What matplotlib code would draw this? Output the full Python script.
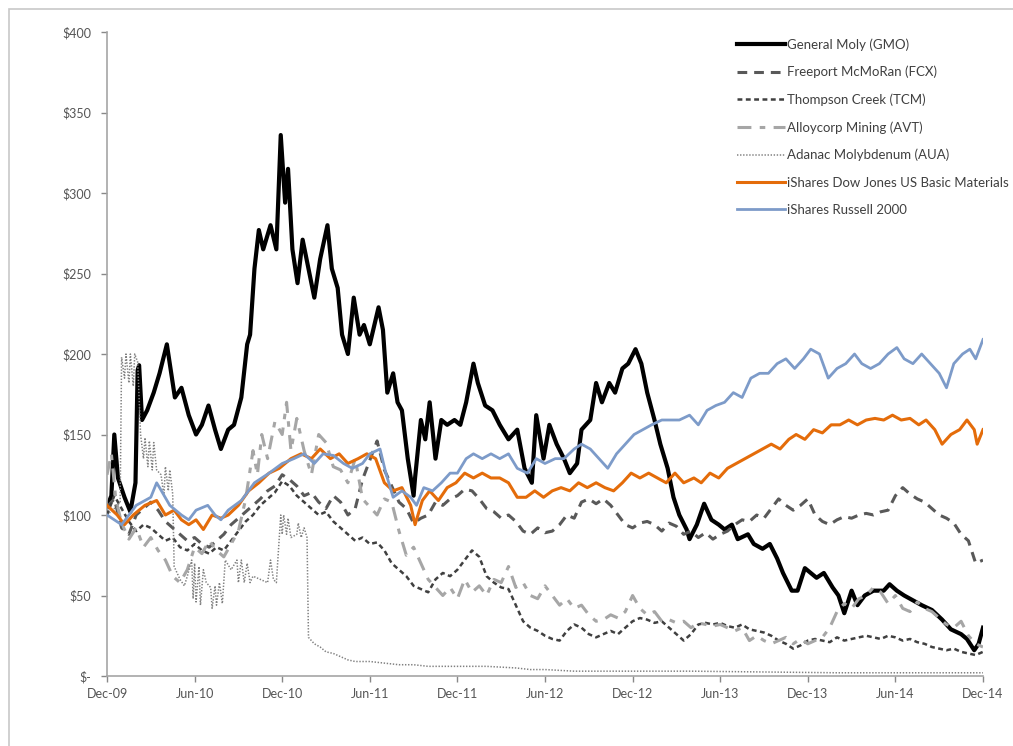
import matplotlib.pyplot as plt
from matplotlib.patches import Rectangle

plt.rcParams['font.family'] = ['Lato', 'DejaVu Sans']
plt.rcParams['lines.scale_dashes'] = False

# months since Dec-09, value of $100 invested
gmo = [(0, 105), (0.3, 112), (0.5, 150), (0.75, 123), (1.2, 111), (1.6, 102), (1.95, 120), (2.1, 190),
       (2.2, 193), (2.4, 159), (2.75, 165), (3.2, 176), (3.6, 188), (4.1, 206), (4.3, 194), (4.65, 173),
       (5.1, 179), (5.6, 162), (6.1, 150), (6.5, 156), (6.95, 168), (7.4, 153), (7.8, 141), (8.3, 153),
       (8.7, 156), (9.2, 173), (9.6, 206), (9.8, 212), (10.1, 253), (10.4, 277), (10.7, 265), (11.2, 280),
       (11.6, 265), (11.9, 336), (12.2, 294), (12.4, 315), (12.7, 265), (13.05, 244), (13.4, 271), (13.8, 253),
       (14.2, 235), (14.6, 259), (15.1, 280), (15.4, 253), (15.8, 241), (16.1, 212), (16.5, 200), (16.9, 235),
       (17.3, 212), (17.6, 218), (18.0, 206), (18.6, 229), (18.9, 215), (19.2, 176), (19.6, 188), (19.9, 170),
       (20.2, 165), (20.6, 135), (21.0, 112), (21.1, 123), (21.5, 159), (21.8, 147), (22.1, 170), (22.5, 135),
       (22.9, 159), (23.3, 156), (23.8, 159), (24.2, 156), (24.6, 170), (25.1, 194), (25.4, 182), (25.9, 168),
       (26.4, 165), (26.9, 156), (27.5, 147), (28.1, 153), (28.6, 129), (29.1, 120), (29.4, 162), (29.9, 135),
       (30.3, 156), (30.8, 144), (31.3, 135), (31.7, 126), (32.2, 132), (32.5, 153), (33.1, 159), (33.5, 182),
       (33.9, 170), (34.4, 182), (34.8, 176), (35.3, 191), (35.7, 194), (36.2, 203), (36.6, 194), (37.0, 176),
       (37.5, 159), (37.9, 144), (38.4, 129), (38.8, 111), (39.2, 100), (39.7, 91), (39.9, 85), (40.4, 94),
       (40.9, 107), (41.4, 97), (41.9, 94), (42.3, 91), (42.8, 94), (43.2, 85), (43.9, 88), (44.3, 82),
       (44.9, 79), (45.4, 82), (45.9, 73), (46.3, 64), (46.9, 53), (47.3, 53), (47.8, 67), (48.2, 64),
       (48.6, 61), (49.1, 64), (49.7, 55), (50.1, 50), (50.5, 39), (51.0, 53), (51.4, 44), (51.9, 50),
       (52.5, 53), (53.2, 53), (53.6, 57), (54.1, 53), (54.6, 50), (55.2, 47), (55.8, 44), (56.5, 41),
       (57.2, 35), (57.8, 29), (58.5, 26), (58.9, 23), (59.4, 16), (59.7, 20), (60.0, 30)]

fcx = [(0, 105), (0.5, 110), (1, 92), (1.5, 88), (2, 100), (2.5, 104), (3, 108), (3.5, 103), (4, 96),
       (4.5, 92), (5, 88), (5.5, 84), (6, 86), (6.5, 82), (7, 80), (7.5, 84), (8, 88), (8.5, 94), (9, 98),
       (9.5, 102), (10, 106), (10.5, 110), (11, 115), (11.5, 118), (12, 125), (12.5, 122), (13, 118),
       (13.5, 112), (14, 114), (14.5, 108), (15, 104), (15.5, 112), (16, 108), (16.5, 100), (17, 104),
       (17.5, 122), (18, 134), (18.5, 146), (19, 128), (19.5, 118), (20, 108), (20.5, 104), (21, 95),
       (21.5, 98), (22, 100), (22.5, 108), (23, 106), (23.5, 110), (24, 112), (24.5, 116), (25, 115),
       (25.5, 110), (26, 104), (26.5, 102), (27, 98), (27.5, 100), (28, 96), (28.5, 90), (29, 88),
       (29.5, 92), (30, 89), (30.5, 90), (31, 94), (31.5, 100), (32, 98), (32.5, 108), (33, 110),
       (33.5, 107), (34, 110), (34.5, 106), (35, 100), (35.5, 94), (36, 92), (36.5, 95), (37, 96),
       (37.5, 94), (38, 90), (38.5, 95), (39, 93), (39.5, 88), (40, 90), (40.5, 86), (41, 89), (41.5, 85),
       (42, 88), (42.5, 90), (43, 94), (43.5, 97), (44, 96), (44.5, 100), (45, 98), (45.5, 104), (46, 110),
       (46.5, 106), (47, 103), (47.5, 106), (48, 110), (48.5, 100), (49, 96), (49.5, 94), (50, 97),
       (50.5, 99), (51, 98), (51.5, 100), (52, 101), (52.5, 100), (53, 102), (53.5, 103), (54, 112),
       (54.5, 117), (55, 113), (55.5, 110), (56, 108), (56.5, 104), (57, 100), (57.5, 98), (58, 95),
       (58.5, 88), (59, 84), (59.5, 70), (60, 72)]

tcm = [(0, 100), (0.5, 112), (1, 104), (1.5, 96), (2, 90), (2.5, 94), (3, 92), (3.5, 88), (4, 84),
       (4.5, 86), (5, 80), (5.5, 78), (6, 82), (6.5, 78), (7, 76), (7.5, 80), (8, 78), (8.5, 84), (9, 90),
       (9.5, 96), (10, 100), (10.5, 106), (11, 110), (11.5, 114), (12, 121), (12.5, 118), (13, 112),
       (13.5, 108), (14, 104), (14.5, 100), (15, 102), (15.5, 96), (16, 92), (16.5, 88), (17, 84),
       (17.5, 86), (18, 82), (18.5, 83), (19, 78), (19.5, 70), (20, 66), (20.5, 62), (21, 56), (21.5, 54),
       (22, 52), (22.5, 60), (23, 64), (23.5, 62), (24, 66), (24.5, 72), (25, 78), (25.5, 74), (26, 62),
       (26.5, 58), (27, 55), (27.5, 54), (28, 44), (28.5, 34), (29, 30), (29.5, 28), (30, 25), (30.5, 23),
       (31, 22), (31.5, 28), (32, 32), (32.5, 30), (33, 26), (33.5, 24), (34, 26), (34.5, 28), (35, 26),
       (35.5, 30), (36, 34), (36.5, 36), (37, 35), (37.5, 33), (38, 34), (38.5, 30), (39, 26), (39.5, 22),
       (40, 26), (40.5, 32), (41, 33), (41.5, 32), (42, 33), (42.5, 31), (43, 30), (43.5, 32), (44, 29),
       (44.5, 28), (45, 27), (45.5, 25), (46, 22), (46.5, 20), (47, 17), (47.5, 19), (48, 22), (48.5, 23),
       (49, 22), (49.5, 21), (50, 24), (50.5, 22), (51, 23), (51.5, 24), (52, 25), (52.5, 24), (53, 23),
       (53.5, 25), (54, 24), (54.5, 22), (55, 23), (55.5, 21), (56, 20), (56.5, 18), (57, 17), (57.5, 16),
       (58, 17), (58.5, 15), (59, 14), (59.5, 13), (60, 15)]

avt = [(0, 125), (0.3, 138), (0.6, 110), (1, 95), (1.5, 85), (2, 92), (2.5, 80), (3, 86), (3.5, 78),
       (4, 72), (4.5, 62), (5, 58), (5.5, 66), (6, 80), (6.5, 76), (7, 84), (7.5, 78), (8, 74), (8.5, 82),
       (9, 90), (9.5, 110), (10, 140), (10.3, 125), (10.6, 150), (11, 135), (11.5, 158), (12, 150),
       (12.3, 170), (12.6, 140), (13, 160), (13.5, 140), (14, 125), (14.5, 150), (15, 145), (15.5, 130),
       (16, 128), (16.5, 120), (17, 135), (17.5, 110), (18, 105), (18.5, 100), (19, 110), (19.5, 108),
       (20, 90), (20.5, 75), (21, 80), (21.5, 70), (22, 60), (22.5, 55), (23, 50), (23.5, 55), (24, 48),
       (24.5, 60), (25, 52), (25.5, 56), (26, 50), (26.5, 60), (27, 58), (27.5, 68), (28, 55), (28.5, 58),
       (29, 50), (29.5, 48), (30, 56), (30.5, 50), (31, 44), (31.5, 48), (32, 42), (32.5, 44), (33, 38),
       (33.5, 34), (34, 35), (34.5, 38), (35, 36), (35.5, 40), (36, 50), (36.5, 42), (37, 38), (37.5, 40),
       (38, 34), (38.5, 35), (39, 33), (39.5, 34), (40, 30), (40.5, 33), (41, 32), (41.5, 31), (42, 32),
       (42.5, 30), (43, 28), (43.5, 30), (44, 22), (44.5, 25), (45, 22), (45.5, 20), (46, 22), (46.5, 24),
       (47, 20), (47.5, 23), (48, 20), (48.5, 22), (49, 24), (49.5, 30), (50, 40), (50.5, 45), (51, 42),
       (51.5, 48), (52, 50), (52.5, 55), (53, 52), (53.5, 45), (54, 50), (54.5, 42), (55, 40), (55.5, 46),
       (56, 42), (56.5, 40), (57, 36), (57.5, 32), (58, 30), (58.5, 34), (59, 25), (59.5, 20), (60, 18)]

aua = [(0, 100), (0.5, 104), (0.9, 108), (1.0, 198), (1.2, 185), (1.3, 200), (1.5, 182), (1.6, 200),
       (1.8, 180), (1.9, 200), (2.1, 195), (2.3, 150), (2.5, 135), (2.6, 148), (2.8, 130), (2.9, 146),
       (3.1, 128), (3.2, 145), (3.4, 128), (3.7, 125), (3.9, 112), (4.0, 130), (4.2, 115), (4.3, 128),
       (4.5, 113), (4.6, 68), (5.0, 60), (5.3, 56), (5.5, 62), (5.8, 72), (5.9, 48), (6.0, 70), (6.1, 46),
       (6.3, 68), (6.4, 44), (6.6, 66), (6.8, 58), (7.1, 55), (7.2, 42), (7.4, 56), (7.5, 44), (7.7, 58),
       (7.9, 45), (8.1, 72), (8.5, 66), (8.9, 72), (9.0, 58), (9.2, 72), (9.4, 58), (9.6, 70), (9.8, 58),
       (10.0, 62), (10.5, 60), (11.0, 58), (11.2, 72), (11.4, 60), (11.6, 58), (11.9, 100), (12.0, 88),
       (12.1, 100), (12.3, 88), (12.4, 98), (12.6, 86), (13.0, 88), (13.1, 95), (13.3, 86), (13.5, 92),
       (13.7, 86), (13.8, 24), (14.2, 20), (14.6, 18), (15, 15), (15.5, 14), (16, 12), (16.5, 10), (17, 9),
       (18, 9), (19, 8), (20, 7), (21, 7), (22, 6), (24, 6), (26, 6), (28, 5), (29, 4), (30, 4), (32, 3),
       (36, 3), (40, 3), (45, 2.5), (50, 2), (55, 2), (60, 2)]

iym = [(0, 106), (0.7, 100), (1.2, 94), (1.8, 100), (2.6, 106), (3.4, 109), (4.0, 100), (4.6, 103),
       (5.1, 97), (5.6, 94), (6.1, 97), (6.6, 91), (7.2, 100), (7.8, 98), (8.3, 100), (9.0, 106), (9.7, 115),
       (10.4, 120), (11.1, 126), (11.8, 129), (12.6, 135), (13.3, 138), (14.0, 135), (14.6, 141), (15.3, 135),
       (15.9, 138), (16.5, 132), (17.2, 135), (17.8, 138), (18.4, 135), (19.0, 120), (19.6, 115), (20.2, 117),
       (20.8, 106), (21.1, 94), (21.6, 109), (22.1, 115), (22.7, 109), (23.3, 117), (23.9, 120), (24.5, 126),
       (25.1, 123), (25.7, 126), (26.3, 123), (26.9, 123), (27.5, 120), (28.1, 111), (28.7, 111), (29.3, 115),
       (29.9, 111), (30.5, 115), (31.1, 117), (31.7, 115), (32.3, 120), (32.9, 117), (33.5, 120), (34.1, 117),
       (34.7, 115), (35.3, 120), (35.9, 126), (36.5, 123), (37.1, 126), (37.7, 123), (38.3, 120), (38.9, 126),
       (39.5, 120), (40.2, 123), (40.7, 120), (41.3, 126), (41.9, 123), (42.5, 129), (43.1, 132), (43.7, 135),
       (44.3, 138), (44.9, 141), (45.5, 144), (46.1, 141), (46.7, 147), (47.2, 150), (47.8, 147), (48.4, 153),
       (49.0, 151), (49.6, 156), (50.2, 156), (50.8, 159), (51.4, 156), (52.0, 159), (52.6, 160), (53.2, 159),
       (53.8, 162), (54.4, 159), (55.0, 160), (55.6, 156), (56.1, 159), (56.7, 153), (57.2, 144), (57.8, 150),
       (58.4, 153), (58.9, 159), (59.4, 153), (59.6, 144), (60.0, 153)]

iwm = [(0, 100), (1, 94), (2, 106), (3, 111), (3.4, 120), (3.6, 117), (4.3, 106), (5.1, 100), (5.6, 97),
       (6.1, 103), (6.9, 106), (7.4, 100), (7.8, 97), (8.3, 103), (9.2, 109), (10.1, 120), (11.1, 126),
       (12.0, 132), (12.8, 135), (13.5, 138), (14.2, 132), (14.8, 138), (15.5, 137), (16.2, 132), (16.8, 129),
       (17.5, 132), (18.0, 138), (18.7, 141), (19.1, 126), (19.6, 111), (20.2, 115), (20.8, 111), (21.2, 106),
       (21.7, 117), (22.3, 115), (22.9, 120), (23.5, 126), (24.0, 126), (24.6, 135), (25.1, 138), (25.7, 135),
       (26.3, 138), (26.9, 135), (27.5, 138), (28.1, 129), (28.8, 126), (29.4, 135), (30.0, 132), (30.7, 135),
       (31.3, 135), (32.0, 141), (32.5, 144), (33.1, 141), (33.7, 135), (34.3, 129), (34.9, 138), (35.5, 144),
       (36.1, 150), (36.7, 153), (37.3, 156), (38.0, 159), (38.6, 159), (39.2, 159), (39.9, 162), (40.5, 156),
       (41.1, 165), (41.7, 168), (42.3, 170), (42.9, 176), (43.5, 173), (44.1, 185), (44.7, 188), (45.3, 188),
       (45.9, 194), (46.5, 197), (47.1, 191), (47.7, 197), (48.2, 203), (48.8, 200), (49.4, 185), (50.0, 191),
       (50.6, 194), (51.2, 200), (51.7, 194), (52.3, 191), (52.9, 194), (53.5, 200), (54.1, 204), (54.6, 197),
       (55.2, 194), (55.8, 200), (56.4, 194), (57.0, 188), (57.5, 179), (58.0, 194), (58.6, 200), (59.1, 203),
       (59.5, 197), (60.0, 209)]

x_ticks = [0, 6, 12, 18, 24, 30, 36, 42, 48, 54, 60]
x_labels = ['Dec-09', 'Jun-10', 'Dec-10', 'Jun-11', 'Dec-11', 'Jun-12',
            'Dec-12', 'Jun-13', 'Dec-13', 'Jun-14', 'Dec-14']
y_ticks = [0, 50, 100, 150, 200, 250, 300, 350, 400]
y_labels = ['$-', '$50', '$100', '$150', '$200', '$250', '$300', '$350', '$400']

series = [
    ('General Moly (GMO)', gmo, dict(color='black', lw=3.0)),
    ('Freeport McMoRan (FCX)', fcx, dict(color='#595959', lw=2.2, dashes=(7, 5))),
    ('Thompson Creek (TCM)', tcm, dict(color='#404040', lw=1.8, dashes=(3.5, 2.5))),
    ('Alloycorp Mining (AVT)', avt, dict(color='#a6a6a6', lw=2.2, dashes=(10, 6, 4, 6))),
    ('Adanac Molybdenum (AUA)', aua, dict(color='#808080', lw=1.1, dashes=(1, 1.2))),
    ('iShares Dow Jones US Basic Materials', iym, dict(color='#e46c0a', lw=2.2)),
    ('iShares Russell 2000', iwm, dict(color='#7d9bc9', lw=2.0)),
]

fig = plt.figure(figsize=(10.13, 7.46), dpi=100)
ax = fig.add_axes([107 / 1013, 1 - 676 / 746, 876 / 1013, 644 / 746])

for i, (name, pts, style) in enumerate(series):
    xs, ys = zip(*pts)
    ax.plot(xs, ys, label=name, zorder=2 + i, **style)

ax.set_xlim(0, 60)
ax.set_ylim(0, 400)
ax.set_xticks(x_ticks)
ax.set_xticklabels(x_labels)
ax.set_yticks(y_ticks)
ax.set_yticklabels(y_labels)
ax.tick_params(labelsize=9, colors='#888888', labelcolor='#555555', length=4, width=1)
ax.tick_params(axis='x', pad=5)
ax.tick_params(axis='y', pad=7.5)
for s in ['top', 'right']:
    ax.spines[s].set_visible(False)
for s in ['left', 'bottom']:
    ax.spines[s].set_color('#a6a6a6')
    ax.spines[s].set_linewidth(1.2)

leg = ax.legend(loc='upper left', bbox_to_anchor=(737 / 1013, 1 - 38 / 746),
                bbox_transform=fig.transFigure, frameon=False, fontsize=9.5,
                handlelength=3.6, handletextpad=0.2, labelspacing=1.15,
                borderpad=0, borderaxespad=0)
for t in leg.get_texts():
    t.set_color('#404040')

# outer chart border (only top and left visible in the crop)
fig.patches.append(Rectangle((9 / 1013, -0.02), 1.05, 1.02 - 9 / 746,
                             transform=fig.transFigure, fill=False,
                             edgecolor='#c8c8c8', lw=1.2))

fig.savefig('out.png', dpi=100)
